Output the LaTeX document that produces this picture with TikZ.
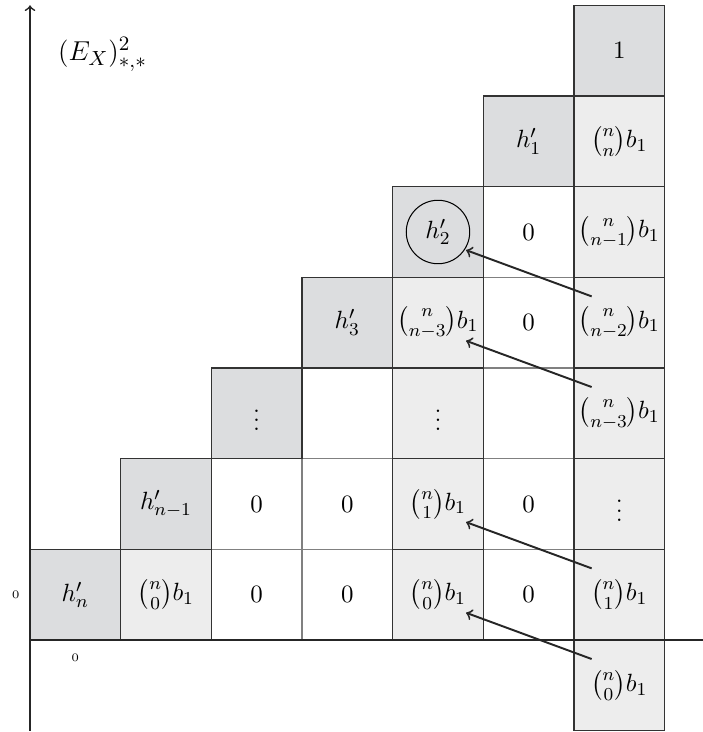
\documentclass[tikz,border=0pt]{standalone}
\usepackage{amsmath}
\definecolor{cdark}{RGB}{220,221,223}
\definecolor{clight}{RGB}{237,237,237}
\begin{document}
\begin{tikzpicture}[x=1.4cm,y=1.4cm,
  cell/.style={minimum size=1.4cm, inner sep=0pt, outer sep=0pt, draw=black!80, line width=0.55pt, font=\fontsize{11.2}{13}\selectfont},
  dk/.style={cell, fill=cdark},
  lt/.style={cell, fill=clight},
  wh/.style={cell, fill=white, draw=black!50, line width=0.45pt},
  arr/.style={->, line width=0.85pt, black!85},
  axis/.style={line width=0.75pt, black!85},
  small/.style={font=\tiny, inner sep=0pt}]
\useasboundingbox (-0.331,-1.015) rectangle (7.423,7.059);
% white cells
\node[wh] (c20) at (2.5,0.5) {$0$};
\node[wh] (c30) at (3.5,0.5) {$0$};
\node[wh] (c50) at (5.5,0.5) {$0$};
\node[wh] (c21) at (2.5,1.5) {$0$};
\node[wh] (c31) at (3.5,1.5) {$0$};
\node[wh] (c51) at (5.5,1.5) {$0$};
\node[wh] (c32) at (3.5,2.5) {};
\node[wh] (c52) at (5.5,2.5) {};
\node[wh] (c53) at (5.5,3.5) {$0$};
\node[wh] (c54) at (5.5,4.5) {$0$};
% light cells
\node[lt] (c10) at (1.5,0.5) {$\binom{n}{0}b_1$};
\node[lt] (c40) at (4.5,0.5) {$\binom{n}{0}b_1$};
\node[lt] (c60) at (6.5,0.5) {$\binom{n}{1}b_1$};
\node[lt] (c6m) at (6.5,-0.5) {$\binom{n}{0}b_1$};
\node[lt] (c41) at (4.5,1.5) {$\binom{n}{1}b_1$};
\node[lt] (c61) at (6.5,1.5) {$\vdots$};
\node[lt] (c42) at (4.5,2.5) {$\vdots$};
\node[lt] (c62) at (6.5,2.5) {$\binom{n}{n-3}b_1$};
\node[lt] (c43) at (4.5,3.5) {$\binom{n}{n-3}b_1$};
\node[lt] (c63) at (6.5,3.5) {$\binom{n}{n-2}b_1$};
\node[lt] (c64) at (6.5,4.5) {$\binom{n}{n-1}b_1$};
\node[lt] (c65) at (6.5,5.5) {$\binom{n}{n}b_1$};
% dark cells
\node[dk] (c00) at (0.5,0.5) {$h'_n$};
\node[dk] (c11) at (1.5,1.5) {$h'_{n-1}$};
\node[dk] (c22) at (2.5,2.5) {$\vdots$};
\node[dk] (c33) at (3.5,3.5) {$h'_3$};
\node[dk] (c44) at (4.5,4.5) {$h'_2$};
\node[dk] (c55) at (5.5,5.5) {$h'_1$};
\node[dk] (c66) at (6.5,6.5) {$1$};
% circle
\node[draw, circle, minimum size=0.98cm, inner sep=0pt, line width=0.45pt] (circ) at (c44.center) {};
% arrows
\draw[arr] ([shift={(0.195,-0.21)}]c63.north west) -- ([shift={(-0.19,0.3)}]c44.south east);
\draw[arr] ([shift={(0.195,-0.21)}]c62.north west) -- ([shift={(-0.19,0.3)}]c43.south east);
\draw[arr] ([shift={(0.195,-0.21)}]c60.north west) -- ([shift={(-0.19,0.3)}]c41.south east);
\draw[arr] ([shift={(0.195,-0.21)}]c6m.north west) -- ([shift={(-0.19,0.3)}]c40.south east);
% axes
\coordinate (o) at (0,0);
\coordinate (ytop) at (0,7);
\coordinate (ybot) at (0,-1);
\coordinate (xend) at (7.423,0);
\draw[axis, ->] (ybot) -- (ytop);
\draw[axis] (o) -- (xend);
% labels
\node[small] (l0y) at (-0.158,0.5) {$0$};
\node[small] (l0x) at (0.5,-0.2) {$0$};
\node[font=\fontsize{13}{15}\selectfont] (title) at (0.8,6.46) {$(E_X)^2_{*,*}$};
\end{tikzpicture}
\end{document}
